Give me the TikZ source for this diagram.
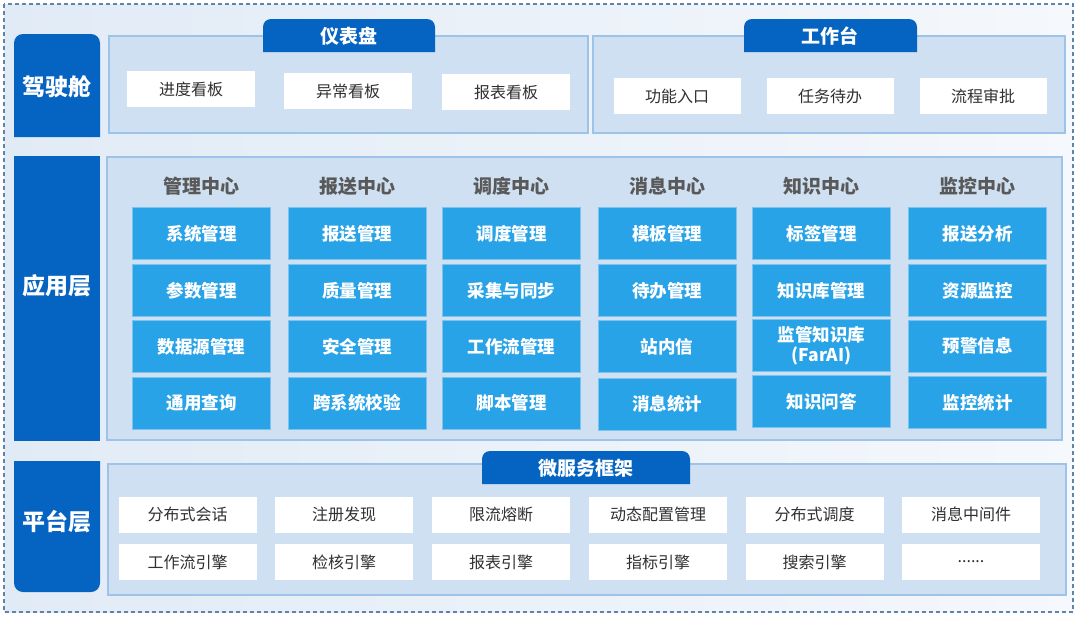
\documentclass[tikz,border=0pt]{standalone}
\usepackage{fontspec}
\newfontfamily\cjk{Noto Sans CJK SC}
\definecolor{deep}{HTML}{0563C1}
\definecolor{panelfill}{HTML}{CEE0F1}
\definecolor{panelline}{HTML}{9DC3E6}
\definecolor{cellblue}{HTML}{29A3E7}
\definecolor{cellline}{HTML}{7CC4EE}
\definecolor{headgray}{HTML}{595959}
\definecolor{textdark}{HTML}{303030}
\definecolor{bgleft}{HTML}{E1EBF6}
\definecolor{bgright}{HTML}{F5F8FC}
\definecolor{frameline}{HTML}{5F83AB}

\begin{document}
\begin{tikzpicture}[x=1pt,y=-1pt,font=\cjk,
  layertext/.style={text=white,font=\cjk\bfseries\fontsize{23}{25}\selectfont},
  tabtext/.style={text=white,font=\cjk\bfseries\fontsize{19}{21}\selectfont},
  panel/.style={fill=panelfill,draw=panelline,line width=1.2pt},
  tile/.style={fill=white,minimum width=128pt,minimum height=36pt,inner sep=0pt,text=textdark,font=\cjk\fontsize{16}{18}\selectfont},
  wide/.style={tile,minimum width=138pt},
  cell/.style={fill=cellblue,draw=cellline,line width=0.8pt,minimum width=138pt,minimum height=52pt,inner sep=0pt,text=white,align=center,font=\cjk\bfseries\fontsize{17.5}{20}\selectfont},
  head/.style={text=headgray,font=\cjk\bfseries\fontsize{19}{21}\selectfont}]

\useasboundingbox (0,0) rectangle (1080,619);
\shade[left color=bgleft,right color=bgright] (4,4) rectangle (1073,612);
\draw[frameline,line width=1.2pt,dash pattern=on 4pt off 3pt] (4,4) rectangle (1073,612);

% layer labels
\fill[deep,rounded corners=9pt] (14,137) -- (14,34) -- (100,34) -- (100,137);
\fill[deep] (14,156) rectangle (100,441);
\fill[deep,rounded corners=9pt] (14,461) -- (14,592) -- (100,592) -- (100,461);
\node[layertext] (cockpit) at (57,87) {驾驶舱};
\node[layertext] (applayer) at (57,286) {应用层};
\node[layertext] (platlayer) at (57,522) {平台层};

% panels
\draw[panel] (109,36) rectangle (588,133);
\draw[panel] (593,36) rectangle (1065,133);
\draw[panel] (107,157) rectangle (1062,440);
\draw[panel] (108,464) rectangle (1066,595);

% tabs
\fill[deep,rounded corners=8pt] (263,52) -- (263,19) -- (435,19) -- (435,52);
\fill[deep,rounded corners=8pt] (744,52) -- (744,19) -- (917,19) -- (917,52);
\fill[deep,rounded corners=8pt] (482,484) -- (482,451) -- (690,451) -- (690,484);
\node[tabtext] (dashboard) at (349,36) {仪表盘};
\node[tabtext] (workbench) at (830,36) {工作台};
\node[tabtext] (micro) at (586,468) {微服务框架};

% cockpit tiles
\node[tile] (t1) at (191,89) {进度看板};
\node[tile] (t2) at (348,91) {异常看板};
\node[tile] (t3) at (506,92) {报表看板};
\node[tile,minimum width=127pt] (t4) at (677,96) {功能入口};
\node[tile,minimum width=127pt] (t5) at (830,96) {任务待办};
\node[tile,minimum width=127pt] (t6) at (983,96) {流程审批};

% application centers
\node[head] (h1) at (201.5,186) {管理中心};
\node[head] (h2) at (357,186) {报送中心};
\node[head] (h3) at (511.5,186) {调度中心};
\node[head] (h4) at (667,186) {消息中心};
\node[head] (h5) at (821.5,186) {知识中心};
\node[head] (h6) at (977.5,186) {监控中心};

\node[cell] (a1) at (201.5,233.5) {系统管理};
\node[cell] (a2) at (201.5,290.5) {参数管理};
\node[cell] (a3) at (201.5,346.5) {数据源管理};
\node[cell] (a4) at (201.5,403) {通用查询};

\node[cell] (b1) at (357,233.5) {报送管理};
\node[cell] (b2) at (357,290.5) {质量管理};
\node[cell] (b3) at (357,346.5) {安全管理};
\node[cell] (b4) at (357,403) {跨系统校验};

\node[cell] (c1) at (511.5,233.5) {调度管理};
\node[cell] (c2) at (511.5,290.5) {采集与同步};
\node[cell] (c3) at (511.5,346.5) {工作流管理};
\node[cell] (c4) at (511.5,403) {脚本管理};

\node[cell] (d1) at (667,233.5) {模板管理};
\node[cell] (d2) at (667,290.5) {待办管理};
\node[cell] (d3) at (667,346.5) {站内信};
\node[cell] (d4) at (667,404) {消息统计};

\node[cell] (e1) at (821.5,233.5) {标签管理};
\node[cell] (e2) at (821.5,290.5) {知识库管理};
\node[cell] (e3) at (821.5,345.5) {监管知识库\\(FarAI)};
\node[cell] (e4) at (821.5,401.5) {知识问答};

\node[cell] (f1) at (977.5,233.5) {报送分析};
\node[cell] (f2) at (977.5,290.5) {资源监控};
\node[cell] (f3) at (977.5,346) {预警信息};
\node[cell] (f4) at (977.5,402.5) {监控统计};

% platform tiles
\node[wide] (p1) at (187.5,514.5) {分布式会话};
\node[wide] (p2) at (344,514.5) {注册发现};
\node[wide] (p3) at (501,514.5) {限流熔断};
\node[wide] (p4) at (658,514.5) {动态配置管理};
\node[wide] (p5) at (814.5,514.5) {分布式调度};
\node[wide] (p6) at (971,514.5) {消息中间件};
\node[wide] (q1) at (187.5,562) {工作流引擎};
\node[wide] (q2) at (344,562) {检核引擎};
\node[wide] (q3) at (501,562) {报表引擎};
\node[wide] (q4) at (658,562) {指标引擎};
\node[wide] (q5) at (814.5,562) {搜索引擎};
\node[wide] (q6) at (971,562) {......};

\end{tikzpicture}
\end{document}
